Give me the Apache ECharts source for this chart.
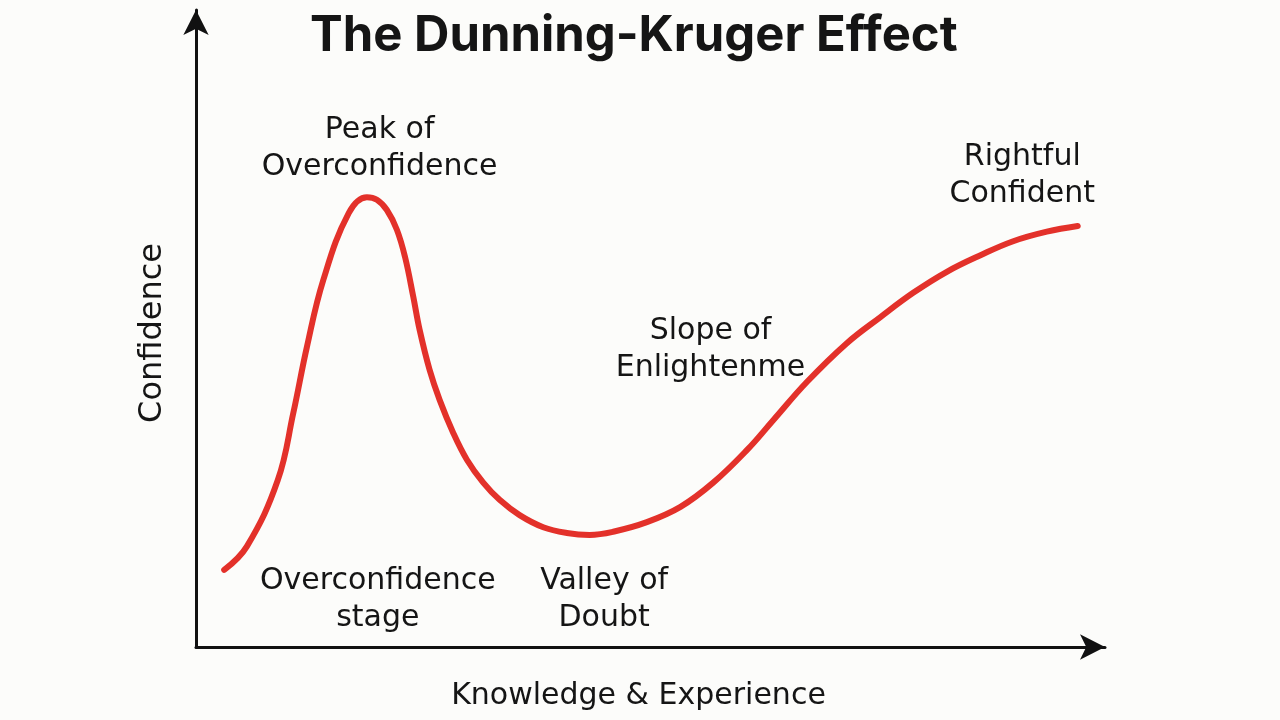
<!DOCTYPE html>
<html><head><meta charset="utf-8">
<script src="https://cdn.jsdelivr.net/npm/echarts@6/dist/echarts.min.js"></script>
<style>html,body{margin:0;padding:0;background:#fcfcfa}#c{width:1280px;height:720px}</style>
</head><body><div id="c"></div>
<script>
const curveX = [3.1, 5.6, 9.0, 10.7, 12.2, 14.0, 16.8, 18.8, 19.9, 21.0, 22.1, 23.0, 23.9, 24.6, 25.7, 26.8, 28.3, 29.8, 31.6, 33.4, 35.6, 38.2, 40.8, 43.3, 45.9, 49.6, 53.3, 56.9, 60.6, 63.5, 67.2, 71.6, 75.3, 78.9, 82.6, 86.3, 89.9, 93.6, 97.0];
const curveY = [12.1, 15.8, 26.2, 36.7, 47.1, 57.6, 68.1, 70.6, 70.2, 68.6, 65.5, 61.2, 55.0, 49.8, 43.5, 38.8, 33.6, 29.4, 25.8, 23.1, 20.7, 18.8, 17.9, 17.6, 18.1, 19.6, 22.0, 25.8, 30.9, 35.6, 41.6, 47.7, 51.8, 55.6, 58.9, 61.5, 63.7, 65.2, 66.1];
const noteText = ['Peak of\nOverconfidence', 'Rightful\nConfident', 'Slope of\nEnlightenme', 'Overconfidence\nstage', 'Valley of\nDoubt'];
const noteX = [20.2, 90.9, 56.6, 20.0, 44.9];
const noteY = [78.2, 74.0, 46.7, 7.4, 7.4];
const titleText = 'The Dunning-Kruger Effect';
const xName = 'Knowledge & Experience';
const yName = 'Confidence';

const FONT = '"DejaVu Sans", sans-serif';
const chart = echarts.init(document.getElementById('c'));
const axisCommon = {
  type: 'value', min: 0, max: 100,
  axisLine: {show: true, symbol: ['none', 'arrow'], symbolSize: [19, 25], symbolOffset: [0, 0],
    lineStyle: {color: '#111', width: 3}},
  axisTick: {show: false}, axisLabel: {show: false}, splitLine: {show: false},
  nameLocation: 'middle'
};
chart.setOption({
  backgroundColor: '#fcfcfa',
  animation: false,
  title: {text: titleText, left: 305, top: 7,
    textStyle: {fontFamily: 'Inter, sans-serif', fontSize: 49, fontWeight: 'bold', color: '#151515'}},
  grid: {left: 196, right: 175, top: 10, bottom: 73, outerBoundsMode: 'none', containLabel: false},
  xAxis: Object.assign({}, axisCommon, {name: xName, nameGap: 34,
    nameTextStyle: {fontFamily: FONT, fontSize: 30, color: '#151515', padding: [0, 24, 0, 0]}}),
  yAxis: Object.assign({}, axisCommon, {name: yName, nameGap: 27, nameRotate: 90,
    nameTextStyle: {fontFamily: FONT, fontSize: 32, color: '#151515', padding: [0, 9, 0, 0]}}),
  series: [
    {type: 'line', smooth: 0.4, symbol: 'none',
      data: curveX.map((x, i) => [x, curveY[i]]),
      lineStyle: {color: '#e3312a', width: 6, cap: 'round', join: 'round'}},
    {type: 'scatter', symbolSize: 1, itemStyle: {color: 'rgba(0,0,0,0)', opacity: 1}, silent: true,
      data: noteX.map((x, i) => ({value: [x, noteY[i]], name: noteText[i]})),
      label: {show: true, position: 'inside', formatter: p => p.name,
        fontFamily: FONT, fontSize: 30, lineHeight: 37, color: '#151515', align: 'center'}}
  ]
});
</script></body></html>
